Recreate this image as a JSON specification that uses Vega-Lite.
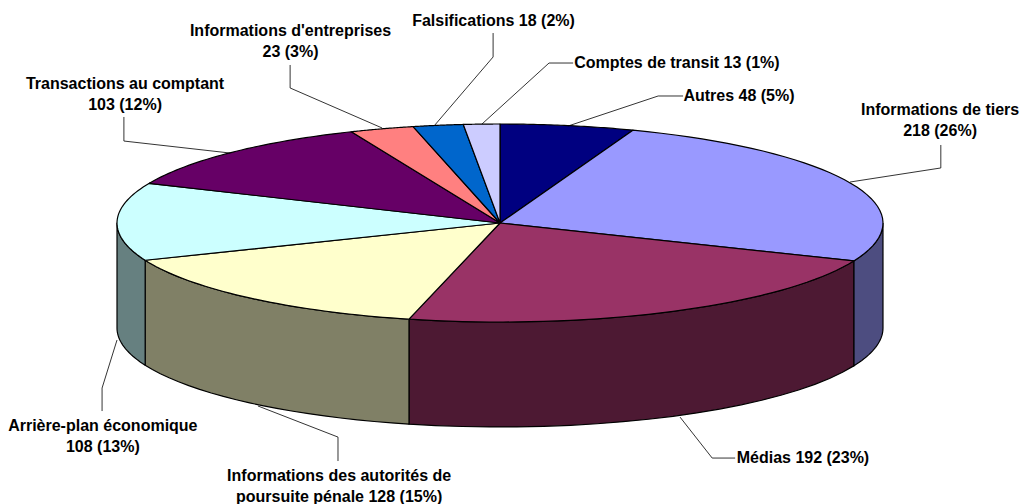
{"$schema":"https://vega.github.io/schema/vega-lite/v6.json","width":1026,"height":504,"padding":0,"autosize":{"type":"none"},"background":"white","config":{"view":{"stroke":null}},"datasets":{"slices":[{"name":"Autres","value":48,"label":"Autres 48 (5%)","lx":0.624,"ly":1.283},{"name":"Informations de tiers","value":218,"label":"Informations de tiers\n218 (26%)","lx":1.149,"ly":1.141},{"name":"Médias","value":192,"label":"Médias 192 (23%)","lx":0.791,"ly":-2.374},{"name":"Informations des autorités de poursuite pénale","value":128,"label":"Informations des autorités de\npoursuite pénale 128 (15%)","lx":-0.42,"ly":-2.556},{"name":"Arrière-plan économique","value":108,"label":"Arrière-plan économique\n108 (13%)","lx":-1.037,"ly":-2.051},{"name":"Transactions au comptant","value":103,"label":"Transactions au comptant\n103 (12%)","lx":-0.979,"ly":1.404},{"name":"Informations d'entreprises","value":23,"label":"Informations d'entreprises\n23 (3%)","lx":-0.547,"ly":1.939},{"name":"Falsifications","value":18,"label":"Falsifications 18 (2%)","lx":-0.017,"ly":2.04},{"name":"Comptes de transit","value":13,"label":"Comptes de transit 13 (1%)","lx":0.462,"ly":1.616}],"leaders":[{"name":"Autres","p":0,"u":0.178,"v":0.98},{"name":"Autres","p":1,"u":0.413,"v":1.283},{"name":"Autres","p":2,"u":0.478,"v":1.283},{"name":"Comptes","p":0,"u":-0.047,"v":1.0},{"name":"Comptes","p":1,"u":0.128,"v":1.616},{"name":"Comptes","p":2,"u":0.191,"v":1.616},{"name":"Falsifications","p":0,"u":-0.17,"v":0.99},{"name":"Falsifications","p":1,"u":-0.018,"v":1.677},{"name":"Falsifications","p":2,"u":-0.018,"v":1.919},{"name":"Entreprises","p":0,"u":-0.308,"v":0.96},{"name":"Entreprises","p":1,"u":-0.548,"v":1.364},{"name":"Entreprises","p":2,"u":-0.548,"v":1.596},{"name":"Transactions","p":0,"u":-0.705,"v":0.707},{"name":"Transactions","p":1,"u":-0.982,"v":0.828},{"name":"Transactions","p":2,"u":-0.982,"v":1.071},{"name":"Tiers","p":0,"u":0.914,"v":0.414},{"name":"Tiers","p":1,"u":1.151,"v":0.556},{"name":"Tiers","p":2,"u":1.151,"v":0.788},{"name":"Médias","p":0,"u":0.47,"v":-1.96},{"name":"Médias","p":1,"u":0.554,"v":-2.374},{"name":"Médias","p":2,"u":0.614,"v":-2.374},{"name":"Autorités","p":0,"u":-0.632,"v":-1.848},{"name":"Autorités","p":1,"u":-0.423,"v":-2.162},{"name":"Autorités","p":2,"u":-0.423,"v":-2.404},{"name":"Arrière-plan","p":0,"u":-1.0,"v":-1.182},{"name":"Arrière-plan","p":1,"u":-1.039,"v":-1.667},{"name":"Arrière-plan","p":2,"u":-1.039,"v":-1.899}]},"resolve":{"scale":{"fill":"independent"}},"layer":[{"data":{"name":"slices"},"transform":[{"window":[{"op":"sum","field":"value","as":"cum"}]},{"calculate":"clamp((datum.cum-datum.value)/851*2*PI,PI/2,3*PI/2)","as":"a"},{"calculate":"clamp(datum.cum/851*2*PI,PI/2,3*PI/2)","as":"b"},{"filter":"datum.b>datum.a"},{"calculate":"sequence(0,43)","as":"k"},{"flatten":["k"]},{"calculate":"datum.k<=20?datum.k/20:(datum.k<=41?(41-datum.k)/20:0)","as":"t"},{"calculate":"datum.a+(datum.b-datum.a)*datum.t","as":"th"},{"calculate":"sin(datum.th)","as":"px"},{"calculate":"cos(datum.th)-((datum.k>20&&datum.k<=41)?1.06:0)","as":"py"}],"mark":{"type":"line","stroke":"black","strokeWidth":1.2,"strokeJoin":"round"},"encoding":{"x":{"field":"px","type":"quantitative","scale":{"domain":[-1.3055,1.3734],"nice":false,"zero":false},"axis":null},"y":{"field":"py","type":"quantitative","scale":{"domain":[-2.838,2.2525],"nice":false,"zero":false},"axis":null},"order":{"field":"k","type":"quantitative"},"fill":{"field":"name","type":"nominal","legend":null,"scale":{"domain":["Informations de tiers","Médias","Informations des autorités de poursuite pénale","Arrière-plan économique"],"range":["#4D4D80","#4D1933","#808066","#668080"]}}}},{"data":{"name":"slices"},"transform":[{"window":[{"op":"sum","field":"value","as":"cum"}]},{"calculate":"(datum.cum-datum.value)/851*2*PI","as":"a"},{"calculate":"datum.cum/851*2*PI","as":"b"},{"calculate":"sequence(0,43)","as":"k"},{"flatten":["k"]},{"calculate":"(datum.k-1)/40","as":"t"},{"calculate":"datum.a+(datum.b-datum.a)*datum.t","as":"th"},{"calculate":"(datum.k==0||datum.k==42)?0:sin(datum.th)","as":"px"},{"calculate":"(datum.k==0||datum.k==42)?0:cos(datum.th)","as":"py"}],"mark":{"type":"line","stroke":"black","strokeWidth":1.2,"strokeJoin":"round"},"encoding":{"x":{"field":"px","type":"quantitative","scale":{"domain":[-1.3055,1.3734],"nice":false,"zero":false},"axis":null},"y":{"field":"py","type":"quantitative","scale":{"domain":[-2.838,2.2525],"nice":false,"zero":false},"axis":null},"order":{"field":"k","type":"quantitative"},"fill":{"field":"name","type":"nominal","legend":null,"scale":{"domain":["Autres","Informations de tiers","Médias","Informations des autorités de poursuite pénale","Arrière-plan économique","Transactions au comptant","Informations d'entreprises","Falsifications","Comptes de transit"],"range":["#000080","#9999FF","#993366","#FFFFCC","#CCFFFF","#660066","#FF8080","#0066CC","#CCCCFF"]}}}},{"data":{"name":"leaders"},"mark":{"type":"line","color":"black","strokeWidth":0.8},"encoding":{"x":{"field":"u","type":"quantitative","scale":{"domain":[-1.3055,1.3734],"nice":false,"zero":false},"axis":null},"y":{"field":"v","type":"quantitative","scale":{"domain":[-2.838,2.2525],"nice":false,"zero":false},"axis":null},"order":{"field":"p","type":"quantitative"},"detail":{"field":"name"}}},{"data":{"name":"slices"},"mark":{"type":"text","font":"Liberation Sans","fontWeight":"bold","fontSize":16,"color":"black","align":"center","baseline":"middle","lineBreak":"\n","lineHeight":21},"encoding":{"x":{"field":"lx","type":"quantitative","scale":{"domain":[-1.3055,1.3734],"nice":false,"zero":false},"axis":null},"y":{"field":"ly","type":"quantitative","scale":{"domain":[-2.838,2.2525],"nice":false,"zero":false},"axis":null},"text":{"field":"label"}}}]}
